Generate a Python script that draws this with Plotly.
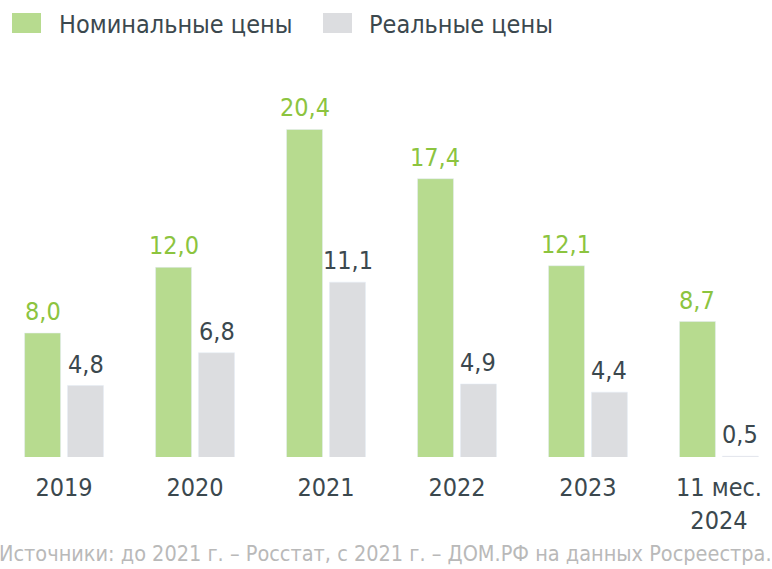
import plotly.graph_objects as go

categories = ["2019", "2020", "2021", "2022", "2023", "11 мес.<br>2024"]
nominal = [8.0, 12.0, 20.4, 17.4, 12.1, 8.7]
real = [4.8, 6.8, 11.1, 4.9, 4.4, 0.5]
series_names = ["Номинальные цены", "Реальные цены"]
source_text = "Источники: до 2021 г. – Росстат, с 2021 г. – ДОМ.РФ на данных Росреестра."

GREEN = "#b7db8f"
GREY = "#dcdde0"
GREEN_TXT = "#8cc43f"
DARK_TXT = "#3b484e"
FONT = "DejaVu Sans Condensed, DejaVu Sans"

def fmt(v):
    return f"{v:.1f}".replace(".", ",")

x = list(range(len(categories)))
fig = go.Figure()
fig.add_trace(go.Bar(x=x, y=nominal, name=series_names[0], marker_color=GREEN,
                     hovertemplate="%{y}<extra></extra>"))
fig.add_trace(go.Bar(x=x, y=real, name=series_names[1], marker_color=GREY,
                     hovertemplate="%{y}<extra></extra>"))

# value labels above the bars
for vals, col, shift in [(nominal, GREEN_TXT, -21.5), (real, DARK_TXT, 21.5)]:
    for xi, v in zip(x, vals):
        fig.add_annotation(x=xi, y=v, xref="x", yref="y", text=fmt(v), showarrow=False,
                           xshift=shift, yshift=5, yanchor="bottom", xanchor="center",
                           font=dict(size=25, color=col, family=FONT))

fig.update_layout(
    width=772, height=569,
    margin=dict(l=0, r=0, t=104, b=112),
    paper_bgcolor="white", plot_bgcolor="white",
    barmode="group", bargap=0.344, bargroupgap=0.163,
    showlegend=False,
    font=dict(family=FONT, color=DARK_TXT),
)
fig.update_xaxes(range=[-0.489, 5.405], tickvals=x, ticktext=categories,
                 tickfont=dict(size=25, color=DARK_TXT, family=FONT),
                 showgrid=False, zeroline=False, showline=False, ticks="",
                 ticklen=0, ticklabelstandoff=13, automargin=False)
fig.update_yaxes(range=[0.45, 21.95], visible=False, showgrid=False, automargin=False)

# legend
for name, col, x0, tx in [(series_names[0], GREEN, 12, 57), (series_names[1], GREY, 323, 367)]:
    fig.add_shape(type="rect", xref="paper", yref="paper",
                  x0=x0 / 772, x1=(x0 + 29) / 772,
                  y0=(569 - 33 - 112) / 353, y1=(569 - 13 - 112) / 353,
                  fillcolor=col, line_width=0)
    fig.add_annotation(xref="paper", yref="paper", x=tx / 772, y=(569 - 24 - 112) / 353,
                       text=name, showarrow=False, xanchor="left", yanchor="middle",
                       font=dict(size=25, color=DARK_TXT, family=FONT))

fig.add_annotation(xref="paper", yref="paper", x=-3 / 772, y=-(553 - 457) / 353,
                   text=source_text, showarrow=False, xanchor="left", yanchor="middle",
                   font=dict(size=21.5, color="#b9b9b9",
                             family="DejaVu Sans Condensed, Liberation Sans Narrow, Roboto Condensed, Liberation Sans"))

fig.write_html("out.html", config={"displayModeBar": False},
               post_script="document.body.style.margin='0';document.body.style.padding='0';")
